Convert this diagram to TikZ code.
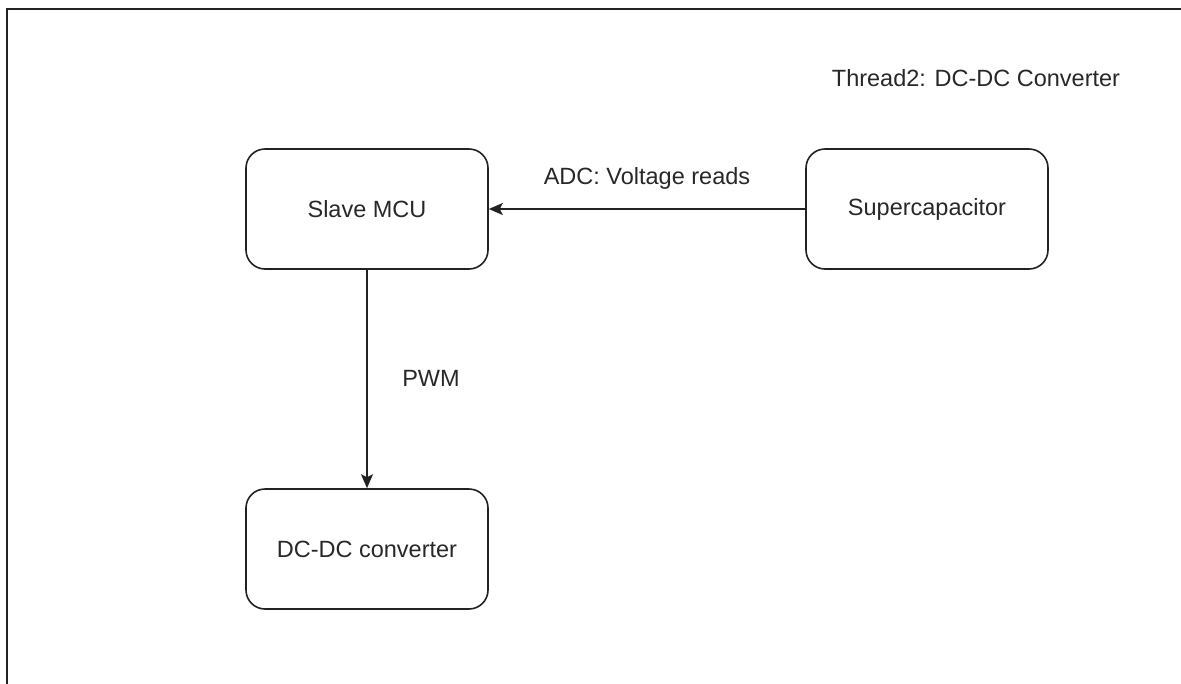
\documentclass[tikz,border=0pt]{standalone}
\usepackage{fontspec}
\setmainfont{Liberation Sans}
\usetikzlibrary{arrows.meta}
\definecolor{ink}{RGB}{34,34,34}
\definecolor{txt}{RGB}{40,40,40}
\begin{document}
\begin{tikzpicture}[x=1pt,y=-1pt,
  blockbox/.style={draw=ink, line width=1.6pt, rounded corners=19pt,
    minimum width=242pt, minimum height=120pt, inner sep=0pt,
    font=\fontsize{23.5}{28}\selectfont, text=txt},
  lbl/.style={font=\fontsize{23.5}{28}\selectfont, text=txt, inner sep=0pt},
  conn/.style={draw=ink, line width=1.6pt, -{Stealth[length=14pt,width=12pt,inset=3pt]}}
]
\useasboundingbox (0,0) rectangle (1181,683);
\clip (0,0) rectangle (1181,683);
\fill[white] (0,0) rectangle (1181,683);
% outer frame (extends beyond the visible area)
\coordinate (fbl) at (7,720);
\coordinate (ftl) at (7,9);
\coordinate (ftr) at (1220,9);
\draw[ink, line width=1.6pt] (fbl) -- (ftl) -- (ftr);

\node[blockbox] (mcu) at (367,209) {Slave MCU};
\node[blockbox] (sup) at (927,209) {Supercapacitor};
\node[blockbox] (dcdc) at (367,549) {DC-DC converter};

\draw[conn] (sup.west) -- (mcu.east);
\draw[conn] (mcu.south) -- (dcdc.north);

\node[lbl] (adc) at (647,178) {ADC: Voltage reads};
\node[lbl] (pwm) at (431,378) {PWM};
\node[lbl] (title) at (976,78) {Thread2: DC-DC Converter};
\end{tikzpicture}
\end{document}
